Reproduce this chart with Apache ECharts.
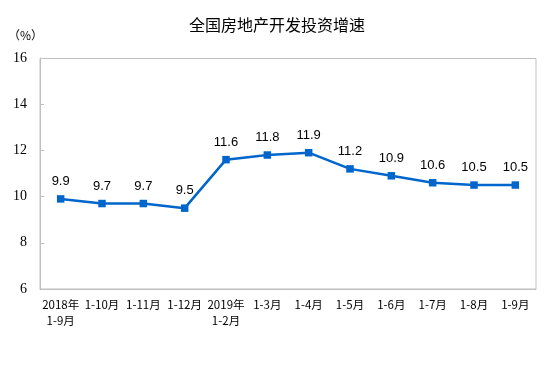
<!DOCTYPE html>
<html><head><meta charset="utf-8">
<script src="https://cdn.jsdelivr.net/npm/echarts@6/dist/echarts.min.js"></script>
<style>html,body{margin:0;padding:0;background:#fff}#c{width:554px;height:367px}</style>
</head><body><div id="c"></div>
<script>
const categories = ['2018年\n1-9月','1-10月','1-11月','1-12月','2019年\n1-2月','1-3月','1-4月','1-5月','1-6月','1-7月','1-8月','1-9月'];
const values = [9.9, 9.7, 9.7, 9.5, 11.6, 11.8, 11.9, 11.2, 10.9, 10.6, 10.5, 10.5];
const yTicks = {min: 6, max: 16, interval: 2};

const chart = echarts.init(document.getElementById('c'), null, {renderer: 'canvas'});
chart.setOption({
  animation: false,
  title: {
    text: '全国房地产开发投资增速', left: 'center', top: 12,
    textStyle: {fontFamily: 'Noto Sans CJK SC', fontSize: 16, fontWeight: 'normal', color: '#000'}
  },
  graphic: [{
    type: 'text', left: 8, top: 29,
    style: {text: '（%）', font: '12px "Noto Sans CJK SC"', fill: '#000'}
  }, {
    type: 'rect', shape: {x: 40, y: 58.5, width: 496, height: 230.5},
    style: {fill: 'none', stroke: '#bfbfbf', lineWidth: 1}, z: 0
  }],
  grid: {left: 40, right: 18, top: 58, bottom: 78},
  xAxis: {
    type: 'category', data: categories, boundaryGap: true,
    axisLine: {lineStyle: {color: '#bfbfbf'}},
    axisTick: {inside: true, length: 4, lineStyle: {color: '#bfbfbf'}},
    axisLabel: {interval: 0, margin: 8, fontSize: 11.5, lineHeight: 16, color: '#000', fontFamily: 'Noto Sans CJK SC'}
  },
  yAxis: {
    type: 'value', min: yTicks.min, max: yTicks.max, interval: yTicks.interval,
    axisLine: {show: true, lineStyle: {color: '#bfbfbf'}},
    axisTick: {show: true, inside: true, length: 4, lineStyle: {color: '#bfbfbf'}},
    splitLine: {show: false},
    axisLabel: {margin: 13, fontSize: 14, color: '#000', fontFamily: 'Liberation Serif'}
  },
  series: [{
    type: 'line', data: values,
    symbol: 'rect', symbolSize: 7.5,
    lineStyle: {color: '#0066cc', width: 2.5},
    itemStyle: {color: '#0066cc'},
    label: {show: true, position: 'top', distance: 7, fontSize: 13, color: '#000', fontFamily: 'Liberation Sans'}
  }]
});
</script></body></html>
